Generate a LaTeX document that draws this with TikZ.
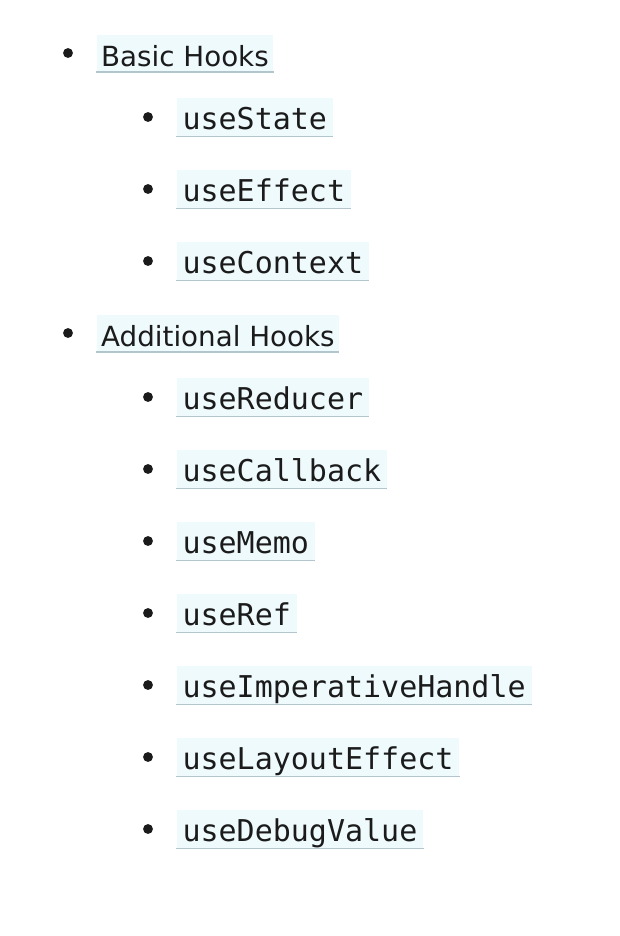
\documentclass[tikz,border=0pt]{standalone}
\usepackage{fontspec}
\setmainfont{DejaVu Sans}
\setmonofont{DejaVu Sans Mono}
\usepackage{tikz}
\usetikzlibrary{positioning}
\definecolor{ink}{RGB}{27,27,27}
\definecolor{codebg}{RGB}{239,250,253}
\definecolor{codeline}{RGB}{178,196,204}

\begin{document}
\begin{tikzpicture}[x=0.75pt, y=-0.75pt,
                    every node/.style = {text=ink, inner sep=0pt},
                    dot/.style = {circle, fill=ink, minimum size=7.4pt},
                    hook/.style = {fill=codebg, inner xsep=3.5pt, text height=24pt, text depth=3.75pt,
                                   font=\fontsize{20.8pt}{26pt}\selectfont,
                                   append after command={(\tikzlastnode.south west) edge[draw=codeline, line width=1.2pt] (\tikzlastnode.south east)}},
                    fn/.style = {hook, inner xsep=4.5pt, text depth=4.9pt, font=\fontsize{22.5pt}{27pt}\ttfamily}]
                \useasboundingbox (0,0) rectangle (620,936);
                % basic hooks
                \node (basic)     [dot] at (68,53) {};
                \node (basicT)    [hook, right = 17.3pt of basic] {Basic Hooks};
                \node (state)     [dot] at (148,117) {};
                \node (stateT)    [fn, right = 17.3pt of state] {useState};
                \node (effect)    [dot] at (148,189) {};
                \node (effectT)   [fn, right = 17.3pt of effect] {useEffect};
                \node (context)   [dot] at (148,261) {};
                \node (contextT)  [fn, right = 17.3pt of context] {useContext};
                % additional hooks
                \node (extra)     [dot] at (68,333) {};
                \node (extraT)    [hook, right = 17.3pt of extra] {Additional Hooks};
                \node (reducer)   [dot] at (148,397) {};
                \node (reducerT)  [fn, right = 17.3pt of reducer] {useReducer};
                \node (callback)  [dot] at (148,469) {};
                \node (callbackT) [fn, right = 17.3pt of callback] {useCallback};
                \node (memo)      [dot] at (148,541) {};
                \node (memoT)     [fn, right = 17.3pt of memo] {useMemo};
                \node (ref)       [dot] at (148,613) {};
                \node (refT)      [fn, right = 17.3pt of ref] {useRef};
                \node (handle)    [dot] at (148,685) {};
                \node (handleT)   [fn, right = 17.3pt of handle] {useImperativeHandle};
                \node (layout)    [dot] at (148,757) {};
                \node (layoutT)   [fn, right = 17.3pt of layout] {useLayoutEffect};
                \node (debug)     [dot] at (148,829) {};
                \node (debugT)    [fn, right = 17.3pt of debug] {useDebugValue};
            \end{tikzpicture}
\end{document}
